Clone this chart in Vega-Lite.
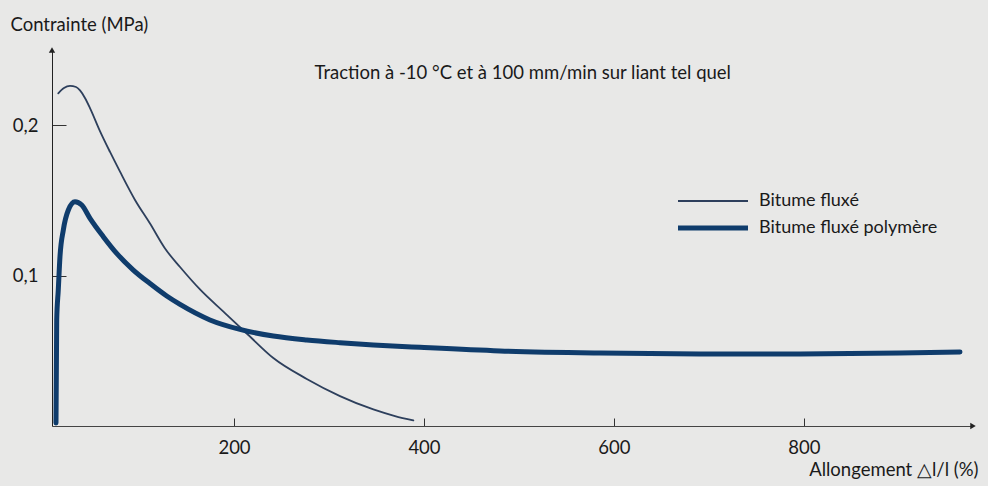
{
  "$schema": "https://vega.github.io/schema/vega-lite/v6.json",
  "width": 921,
  "height": 376,
  "autosize": "none",
  "padding": {"left": 52, "top": 50, "right": 15, "bottom": 60},
  "background": "#e8e8e7",
  "datasets": {
    "courbes": [
      {"serie": "Bitume fluxé", "x": 15.0, "y": 0.2212},
      {"serie": "Bitume fluxé", "x": 21.0, "y": 0.2247},
      {"serie": "Bitume fluxé", "x": 27.35, "y": 0.2261},
      {"serie": "Bitume fluxé", "x": 33.7, "y": 0.2254},
      {"serie": "Bitume fluxé", "x": 37.9, "y": 0.2231},
      {"serie": "Bitume fluxé", "x": 43.1, "y": 0.2181},
      {"serie": "Bitume fluxé", "x": 48.4, "y": 0.2114},
      {"serie": "Bitume fluxé", "x": 58.9, "y": 0.1961},
      {"serie": "Bitume fluxé", "x": 69.5, "y": 0.1822},
      {"serie": "Bitume fluxé", "x": 80.0, "y": 0.1691},
      {"serie": "Bitume fluxé", "x": 95.8, "y": 0.1503},
      {"serie": "Bitume fluxé", "x": 111.6, "y": 0.1346},
      {"serie": "Bitume fluxé", "x": 127.4, "y": 0.118},
      {"serie": "Bitume fluxé", "x": 143.2, "y": 0.1057},
      {"serie": "Bitume fluxé", "x": 164.2, "y": 0.0908},
      {"serie": "Bitume fluxé", "x": 190.5, "y": 0.0751},
      {"serie": "Bitume fluxé", "x": 215.1, "y": 0.0605},
      {"serie": "Bitume fluxé", "x": 241.4, "y": 0.0452},
      {"serie": "Bitume fluxé", "x": 276.6, "y": 0.0313},
      {"serie": "Bitume fluxé", "x": 311.6, "y": 0.0199},
      {"serie": "Bitume fluxé", "x": 346.7, "y": 0.011},
      {"serie": "Bitume fluxé", "x": 369.5, "y": 0.0066},
      {"serie": "Bitume fluxé", "x": 388.8, "y": 0.0037},
      {"serie": "Bitume fluxé polymère", "x": 12.6, "y": 0.002},
      {"serie": "Bitume fluxé polymère", "x": 13.35, "y": 0.0705},
      {"serie": "Bitume fluxé polymère", "x": 15.0, "y": 0.0904},
      {"serie": "Bitume fluxé polymère", "x": 16.8, "y": 0.1126},
      {"serie": "Bitume fluxé polymère", "x": 20.3, "y": 0.1303},
      {"serie": "Bitume fluxé polymère", "x": 25.6, "y": 0.1436},
      {"serie": "Bitume fluxé polymère", "x": 32.6, "y": 0.1491},
      {"serie": "Bitume fluxé polymère", "x": 39.7, "y": 0.1469},
      {"serie": "Bitume fluxé polymère", "x": 48.4, "y": 0.1381},
      {"serie": "Bitume fluxé polymère", "x": 62.4, "y": 0.1259},
      {"serie": "Bitume fluxé polymère", "x": 76.5, "y": 0.1148},
      {"serie": "Bitume fluxé polymère", "x": 94.0, "y": 0.1037},
      {"serie": "Bitume fluxé polymère", "x": 111.6, "y": 0.0947},
      {"serie": "Bitume fluxé polymère", "x": 129.2, "y": 0.0864},
      {"serie": "Bitume fluxé polymère", "x": 143.2, "y": 0.0808},
      {"serie": "Bitume fluxé polymère", "x": 174.7, "y": 0.0705},
      {"serie": "Bitume fluxé polymère", "x": 206.3, "y": 0.0642},
      {"serie": "Bitume fluxé polymère", "x": 241.4, "y": 0.0598},
      {"serie": "Bitume fluxé polymère", "x": 276.6, "y": 0.0572},
      {"serie": "Bitume fluxé polymère", "x": 311.6, "y": 0.0554},
      {"serie": "Bitume fluxé polymère", "x": 346.7, "y": 0.0539},
      {"serie": "Bitume fluxé polymère", "x": 395.8, "y": 0.0523},
      {"serie": "Bitume fluxé polymère", "x": 480, "y": 0.0499},
      {"serie": "Bitume fluxé polymère", "x": 585.3, "y": 0.0485},
      {"serie": "Bitume fluxé polymère", "x": 690.6, "y": 0.0479},
      {"serie": "Bitume fluxé polymère", "x": 795.9, "y": 0.0479},
      {"serie": "Bitume fluxé polymère", "x": 901.1, "y": 0.0485},
      {"serie": "Bitume fluxé polymère", "x": 964.3, "y": 0.0492}
    ]
  },
  "layer": [
    {
      "data": {"name": "courbes"},
      "mark": {"type": "line", "interpolate": "monotone", "strokeCap": "round"},
      "encoding": {
        "x": {
          "field": "x",
          "type": "quantitative",
          "scale": {"domain": [8.4, 978], "nice": false, "zero": false},
          "axis": {
            "values": [200, 400, 600, 800],
            "title": "Allongement △l/l (%)",
            "titleAnchor": "end",
            "titleAlign": "right",
            "titleX": 926,
            "titleY": 49,
            "titleBaseline": "alphabetic",
            "titleFont": "Lato",
            "titleFontSize": 18.5,
            "titleFontWeight": "normal",
            "titleColor": "#1a1a1a",
            "tickSize": -8,
            "tickColor": "#333",
            "domainColor": "#444",
            "labelFont": "Lato",
            "labelFontSize": 18.5,
            "labelColor": "#1a1a1a",
            "labelPadding": 20,
            "grid": false
          }
        },
        "y": {
          "field": "y",
          "type": "quantitative",
          "scale": {"domain": [0, 0.25], "nice": false, "zero": false},
          "axis": {
            "values": [0.1, 0.2],
            "labelExpr": "replace(format(datum.value, '.1f'), '.', ',')",
            "title": "Contrainte (MPa)",
            "titleAngle": 0,
            "titleAlign": "left",
            "titleBaseline": "alphabetic",
            "titleX": -42,
            "titleY": -20,
            "titleFont": "Lato",
            "titleFontSize": 18.5,
            "titleFontWeight": "normal",
            "titleColor": "#1a1a1a",
            "tickSize": -14,
            "tickColor": "#333",
            "domainColor": "#222",
            "labelFont": "Lato",
            "labelFontSize": 18.5,
            "labelColor": "#1a1a1a",
            "labelPadding": 28,
            "grid": false
          }
        },
        "color": {
          "field": "serie",
          "type": "nominal",
          "scale": {"domain": ["Bitume fluxé", "Bitume fluxé polymère"], "range": ["#2d3f5c", "#0f3c6c"]},
          "legend": {"title": null}
        },
        "strokeWidth": {
          "field": "serie",
          "type": "nominal",
          "scale": {"domain": ["Bitume fluxé", "Bitume fluxé polymère"], "range": [1.8, 5]},
          "legend": {"title": null}
        }
      }
    },
    {
      "data": {"values": [{}]},
      "mark": {"type": "text", "font": "Lato", "fontSize": 18.5, "color": "#1a1a1a", "align": "center", "baseline": "middle", "text": "Traction à -10 °C et à 100 mm/min sur liant tel quel"},
      "encoding": {"x": {"datum": 504, "type": "quantitative"}, "y": {"datum": 0.2347, "type": "quantitative"}}
    },
    {
      "data": {"values": [{}]},
      "mark": {"type": "point", "shape": "triangle-up", "filled": true, "size": 40, "color": "#222", "opacity": 1},
      "encoding": {"x": {"datum": 8.4, "type": "quantitative"}, "y": {"datum": 0.25, "type": "quantitative"}}
    },
    {
      "data": {"values": [{}]},
      "mark": {"type": "point", "shape": "triangle-right", "filled": true, "size": 40, "color": "#222", "opacity": 1},
      "encoding": {"x": {"datum": 978, "type": "quantitative"}, "y": {"datum": 0, "type": "quantitative"}}
    }
  ],
  "config": {
    "view": {"stroke": null},
    "legend": {
      "orient": "none",
      "legendX": 652,
      "legendY": 142,
      "symbolType": "M-7,0H7",
      "symbolSize": 100,
      "labelFont": "Lato",
      "labelFontSize": 18,
      "labelColor": "#1a1a1a",
      "labelLimit": 300,
      "rowPadding": 8,
      "labelOffset": 37
    }
  }
}
